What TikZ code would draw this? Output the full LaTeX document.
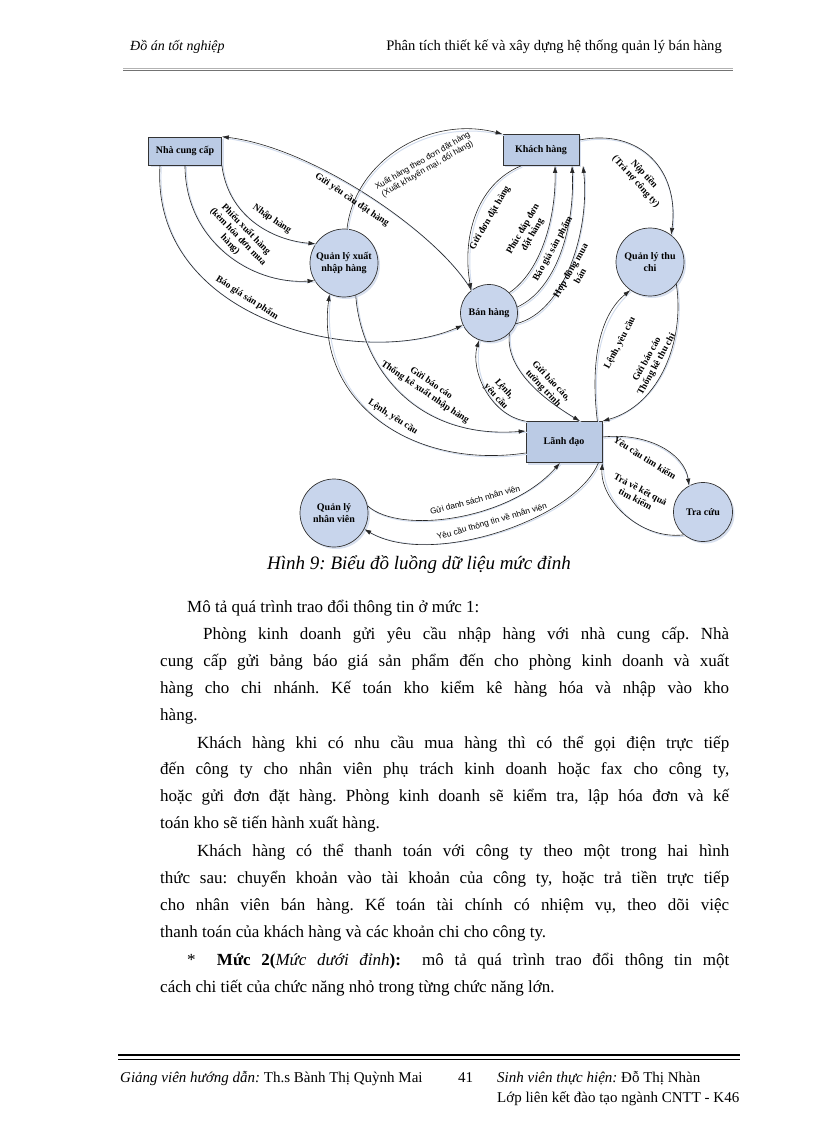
\documentclass[tikz,border=0pt]{standalone}
\usepackage{fontspec}
\setmainfont{Liberation Serif}
\newfontfamily\arialf{Liberation Sans}
\usetikzlibrary{arrows.meta,shadows}
\definecolor{boxfill}{HTML}{BBCBE5}
\definecolor{circfill}{HTML}{C8D5EC}
\definecolor{shadowc}{HTML}{D8E0EF}
\definecolor{lineshadow}{HTML}{D3DDEE}
\frenchspacing
\tikzset{
  entity/.style={draw=black!80, line width=0.7pt, fill=boxfill, inner sep=0pt, align=center,
    font=\bfseries\fontsize{10}{12}\selectfont,
    drop shadow={shadow xshift=2pt,shadow yshift=-2pt,fill=shadowc,opacity=1}},
  proc/.style={circle, draw=black!80, line width=0.7pt, fill=circfill, inner sep=0pt, align=center,
    font=\bfseries\fontsize{10}{12}\selectfont,
    drop shadow={shadow xshift=2pt,shadow yshift=-2pt,fill=shadowc,opacity=1}},
  flow/.style={draw=black!85, line width=0.6pt, -{Latex[length=7pt,width=4.5pt]},
    preaction={draw=lineshadow, line width=1pt, arrows={-}, transform canvas={shift={(1.3pt,-1.3pt)}}}},
  lbl/.style={font=\bfseries\fontsize{9.5}{11}\selectfont, align=center, inner sep=0pt},
  slbl/.style={font=\arialf\fontsize{8.3}{9.5}\selectfont, align=center, inner sep=0pt},
  bodyl/.style={anchor=base west, inner sep=0pt, font=\fontsize{17}{20}\selectfont},
  footl/.style={anchor=base west, inner sep=0pt, font=\fontsize{15}{17}\selectfont},
}
\begin{document}
\begin{tikzpicture}[x=1pt,y=-1pt]
\useasboundingbox (0,0) rectangle (816,1123);
\fill[white] (0,0) rectangle (816,1123);

% header
\node[anchor=base west, inner sep=0pt, font=\itshape\fontsize{14}{16}\selectfont] (h1) at (130,51) {Đồ án tốt nghiệp};
\node[anchor=base east, inner sep=0pt, font=\fontsize{14.6}{16}\selectfont] (h2) at (722,51) {Phân tích thiết kế và xây dựng hệ thống quản lý bán hàng};
\draw[black!30, line width=0.5pt] (123,68.5) coordinate (hl1) -- (733,68.5) coordinate (hl2);
\draw[black!55, line width=0.9pt] (123,70.5) coordinate (hm1) -- (733,70.5) coordinate (hm2);

% nodes
\node[entity, minimum width=73pt, minimum height=28pt] (ncc) at (185,151) {Nhà cung cấp};
\node[entity, minimum width=76pt, minimum height=31pt] (kh) at (541,150) {Khách hàng};
\node[entity, minimum width=76pt, minimum height=41pt] (ld) at (564,442) {Lãnh đạo};
\node[proc, minimum size=68pt] (qlx) at (344,263) {Quản lý xuất\\nhập hàng};
\node[proc, minimum size=57pt] (bh) at (489,313) {Bán hàng};
\node[proc, minimum size=68pt] (qltc) at (650,262) {Quản lý thu\\chi};
\node[proc, minimum size=68pt] (qlnv) at (334,513) {Quản lý\\nhân viên};
\node[proc, minimum size=59pt] (tc) at (703,512) {Tra cứu};

% connectors
\draw[flow] (bh.128) .. controls (440,235) and (315,148) .. (ncc.north east);
\draw[flow] (qlx.85) .. controls (355,160) and (430,115) .. (kh.north west);
\draw[flow] (ncc.south east) .. controls (228,215) and (270,240) .. (qlx.146);
\draw[flow] (ncc.south) .. controls (185,240) and (250,285) .. (qlx.211);
\draw[flow] ([xshift=-25pt]ncc.south) .. controls (150,320) and (360,370) .. (bh.205);
\draw[flow] ([xshift=-20pt]kh.south) .. controls (475,185) and (462,240) .. (bh.128);
\draw[flow] (bh.45) .. controls (540,272) and (556,220) .. ([xshift=14pt]kh.south);
\draw[flow] (bh.12) .. controls (555,290) and (575,230) .. ([xshift=31pt]kh.south);
\draw[flow] (bh.-22) .. controls (565,312) and (590,230) .. ([xshift=42pt]kh.south);
\draw[flow] ([yshift=10pt]kh.east) .. controls (640,128) and (680,170) .. (qltc.52);
\draw[flow] ([xshift=-5pt]ld.north east) .. controls (590,360) and (600,315) .. (qltc.235);
\draw[flow] (qltc.-40) .. controls (685,340) and (660,405) .. (ld.north east);
\draw[flow] (bh.-45) .. controls (505,370) and (545,400) .. ([xshift=16pt]ld.north);
\draw[flow] (ld.north west) .. controls (490,415) and (470,370) .. (bh.250);
\draw[flow] (qlx.-70) .. controls (360,360) and (410,440) .. ([yshift=11pt]ld.west);
\draw[flow] ([yshift=-11pt]ld.west) .. controls (410,470) and (315,400) .. (qlx.245);
\draw[flow] ([yshift=5pt]ld.east) .. controls (650,432) and (685,455) .. (tc.118);
\draw[flow] (tc.230) .. controls (640,540) and (600,500) .. (ld.south east);
\draw[flow] (qlnv.12) .. controls (400,535) and (510,520) .. ([xshift=-4pt]ld.south);
\draw[flow] ([xshift=-4pt]ld.south east) .. controls (575,520) and (430,568) .. (qlnv.-28);

% labels
\node[lbl, rotate=-34] (l1) at (352,200) {Gửi yêu cầu đặt hàng};
\node[slbl, rotate=30] (l2) at (425,165) {Xuất hàng theo đơn đặt hàng\\(Xuất khuyến mại, đổi hàng)};
\node[lbl, rotate=-35] (l3) at (272,219) {Nhập hàng};
\node[lbl, rotate=-46] (l4) at (238,237) {Phiếu xuất hàng\\(kèm hóa đơn mua\\hàng)};
\node[lbl, rotate=-33] (l5) at (247,298) {Báo giá sản phẩm};
\node[lbl, rotate=60] (l6) at (490,218) {Gửi đơn đặt hàng};
\node[lbl, rotate=60] (l7) at (528,232) {Phúc đáp đơn\\đặt hàng};
\node[lbl, rotate=61] (l8) at (553,249) {Báo giá sản phẩm};
\node[lbl, rotate=60] (l9) at (575,273) {Hợp đồng mua\\bán};
\node[lbl, rotate=-48] (l10) at (640,178) {Nộp tiền\\(Trả nợ công ty)};
\node[lbl, rotate=62] (l11) at (620,343) {Lệnh, yêu cầu};
\node[lbl, rotate=61] (l12) at (652,362) {Gửi báo cáo\\Thống kê thu chi};
\node[lbl, rotate=-47] (l13) at (547,385) {Gửi báo cáo,\\tường trình};
\node[lbl, rotate=-48] (l14) at (500,393) {Lệnh,\\yêu cầu};
\node[lbl, rotate=-34] (l15) at (428,388) {Gửi báo cáo\\Thống kê xuất nhập hàng};
\node[lbl, rotate=-33] (l16) at (393,417) {Lệnh, yêu cầu};
\node[lbl, rotate=-32] (l17) at (645,458) {Yêu cầu tìm kiếm};
\node[lbl, rotate=-28] (l18) at (638,494) {Trả về kết quả\\tìm kiếm};
\node[slbl, rotate=15] (l19) at (475,500) {Gửi danh sách nhân viên};
\node[slbl, rotate=16] (l20) at (492,522) {Yêu cầu thông tin về nhân viên};

% caption
\node[inner sep=0pt, font=\itshape\fontsize{19}{22}\selectfont] (cap) at (419,565) {Hình 9: Biểu đồ luồng dữ liệu mức đỉnh};

% body
\node[bodyl] (b1) at (187,612) {Mô tả quá trình trao đổi thông tin ở mức 1:};
\node[bodyl] (b2) at (203,639) {\makebox[526pt][s]{Phòng kinh doanh gửi yêu cầu nhập hàng với nhà cung cấp. Nhà}};
\node[bodyl] (b3) at (160,666) {\makebox[569pt][s]{cung cấp gửi bảng báo giá sản phẩm đến cho phòng kinh doanh và xuất}};
\node[bodyl] (b4) at (160,693) {\makebox[569pt][s]{hàng cho chi nhánh. Kế toán kho kiểm kê hàng hóa và nhập vào kho}};
\node[bodyl] (b5) at (160,720) {hàng.};
\node[bodyl] (b6) at (197,748) {\makebox[532pt][s]{Khách hàng khi có nhu cầu mua hàng thì có thể gọi điện trực tiếp}};
\node[bodyl] (b7) at (160,774) {\makebox[569pt][s]{đến công ty cho nhân viên phụ trách kinh doanh hoặc fax cho công ty,}};
\node[bodyl] (b8) at (160,801) {\makebox[569pt][s]{hoặc gửi đơn đặt hàng. Phòng kinh doanh sẽ kiểm tra, lập hóa đơn và kế}};
\node[bodyl] (b9) at (160,828) {toán kho sẽ tiến hành xuất hàng.};
\node[bodyl] (b10) at (197,856) {\makebox[532pt][s]{Khách hàng có thể thanh toán với công ty theo một trong hai hình}};
\node[bodyl] (b11) at (160,883) {\makebox[569pt][s]{thức sau: chuyển khoản vào tài khoản của công ty, hoặc trả tiền trực tiếp}};
\node[bodyl] (b12) at (160,910) {\makebox[569pt][s]{cho nhân viên bán hàng. Kế toán tài chính có nhiệm vụ, theo dõi việc}};
\node[bodyl] (b13) at (160,937) {thanh toán của khách hàng và các khoản chi cho công ty.};
\node[bodyl] (b14) at (187,965) {\makebox[542pt][s]{*\ \ \textbf{Mức 2(}\textit{Mức dưới đỉnh}\textbf{):}\ \ mô tả quá trình trao đổi thông tin một}};
\node[bodyl] (b15) at (160,992) {cách chi tiết của chức năng nhỏ trong từng chức năng lớn.};

% footer
\draw[black, line width=1.6pt] (118,1055) coordinate (fa1) -- (740,1055) coordinate (fa2);
\draw[black, line width=0.6pt] (118,1059.5) coordinate (fb1) -- (740,1059.5) coordinate (fb2);
\node[footl] (f1) at (120,1082) {\textit{Giảng viên hướng dẫn:} Th.s Bành Thị Quỳnh Mai};
\node[footl] (f2) at (458,1082) {41};
\node[footl] (f3) at (497,1082) {\textit{Sinh viên thực hiện:} Đỗ Thị Nhàn};
\node[footl] (f4) at (497,1102) {Lớp liên kết đào tạo ngành CNTT - K46};
\end{tikzpicture}
\end{document}
